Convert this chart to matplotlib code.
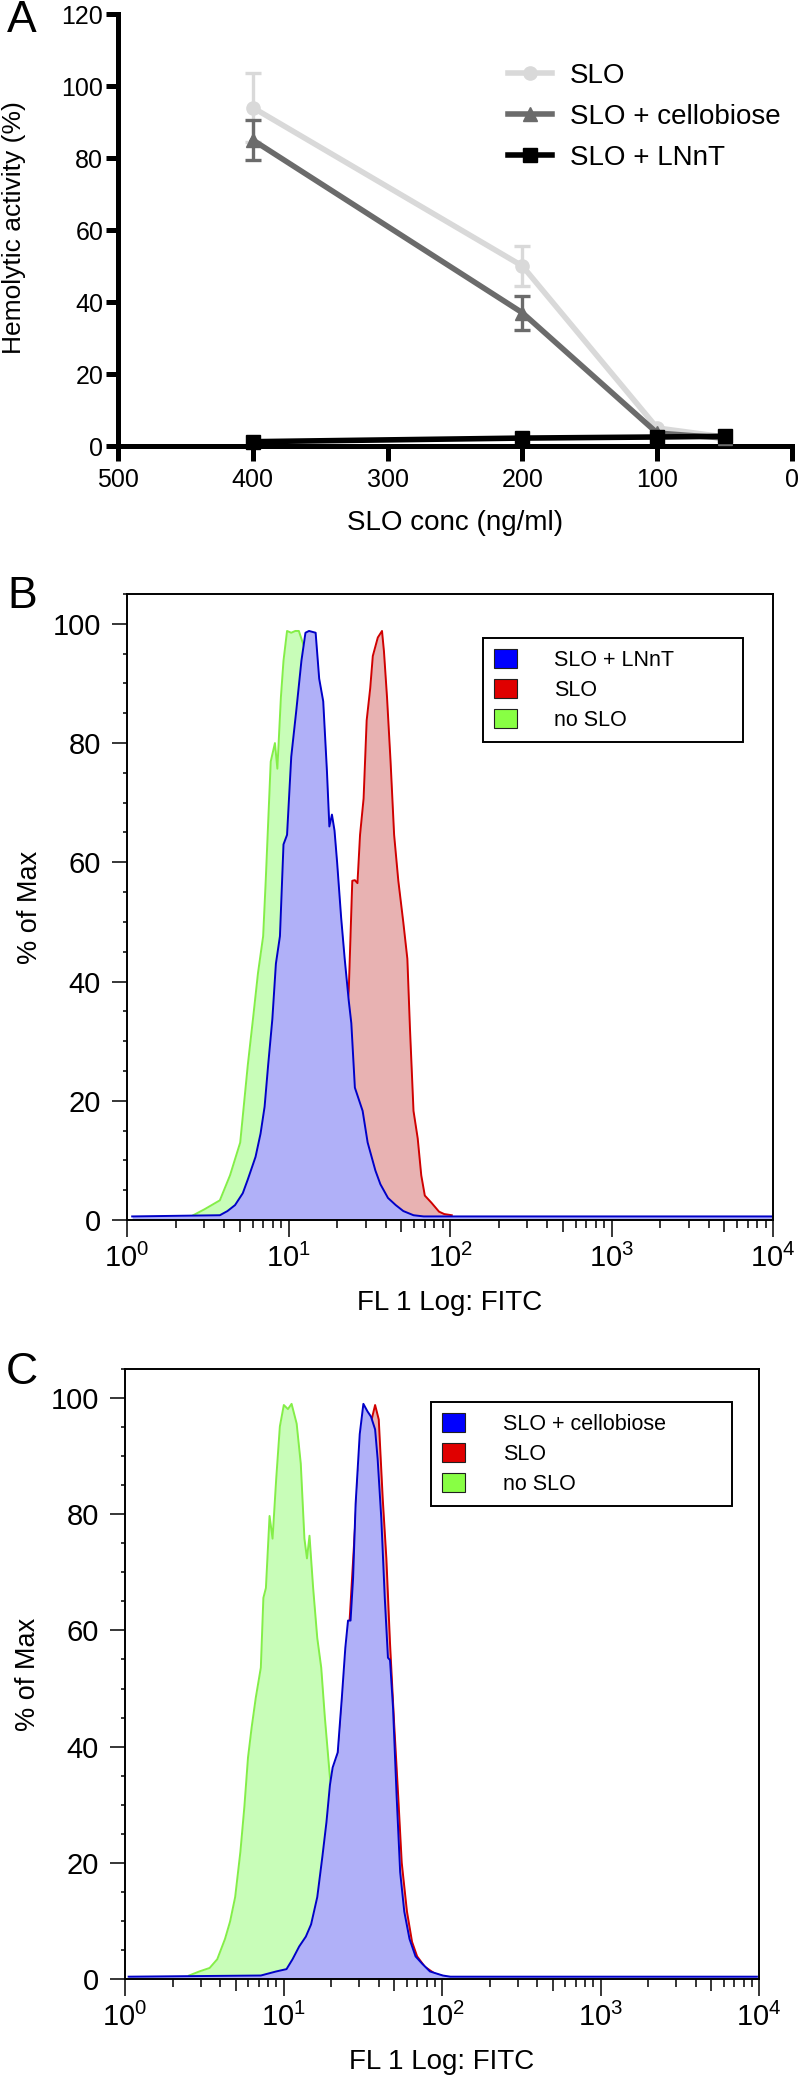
import matplotlib
matplotlib.use("Agg")
import matplotlib.pyplot as plt
import numpy as np
from matplotlib.patches import Patch
from matplotlib.ticker import FixedLocator, LogLocator, NullLocator

plt.rcParams["font.family"] = ["Liberation Sans", "DejaVu Sans"]
plt.rcParams["mathtext.fontset"] = "custom"
plt.rcParams["mathtext.rm"] = "Liberation Sans"
plt.rcParams["mathtext.it"] = "Liberation Sans:italic"

W, H = 798, 2080

# --- Panel A: hemolytic activity ---
conc = [400, 200, 100, 50]
slo_mean = [94, 50, 5, 2.5]
slo_err = [9.5, 5.5, 0, 0]
cello_mean = [85, 37, 3.6, 2.2]
cello_err = [5.5, 4.8, 0, 0]
lnnt_mean = [1.2, 2.2, 2.5, 2.7]
lnnt_err = [0, 0, 0, 0]

# --- Panel B: FL1 histograms (log10 FITC, % of max) ---
b_green_log = [0.41, 0.48, 0.575, 0.638, 0.701, 0.748, 0.78, 0.811, 0.843, 0.859,
               0.89, 0.916, 0.931, 0.953, 0.969, 0.991, 1.017, 1.042, 1.064, 1.111,
               1.174, 1.238, 1.301, 1.364, 1.427, 1.522, 1.616, 1.743]
b_green_pct = [0.8, 1.8, 3.3, 7.5, 13, 26, 33.7, 41.4, 47.6, 56.9,
               76.9, 80, 75.7, 87.7, 93.8, 98.8, 98.5, 98.8, 98.8, 95,
               80, 55, 35, 20, 10, 3, 1, 0.6]
b_red_log = [0.575, 0.969, 1.111, 1.238, 1.332, 1.373, 1.395, 1.411, 1.427, 1.443,
             1.465, 1.484, 1.506, 1.522, 1.553, 1.579, 1.591, 1.61, 1.632, 1.654,
             1.68, 1.711, 1.736, 1.752, 1.774, 1.8, 1.822, 1.844, 1.885, 1.932,
             1.964, 2.011]
b_red_pct = [0.6, 0.6, 4, 14, 28, 38.4, 56.9, 57, 56.5, 64.6,
             70.7, 83.8, 89.2, 94.6, 97.7, 98.8, 95.4, 87.7, 76.9, 64.6,
             56.9, 49.9, 43.8, 32.2, 18.3, 13.7, 7.5, 4.1, 2.9, 1.4,
             1, 0.8]
b_blue_log = [0.032, 0.575, 0.622, 0.669, 0.717, 0.748, 0.796, 0.827, 0.852, 0.874,
              0.9, 0.922, 0.947, 0.969, 0.991, 1.017, 1.048, 1.08, 1.105, 1.127,
              1.168, 1.19, 1.215, 1.238, 1.253, 1.269, 1.285, 1.301, 1.326, 1.348,
              1.373, 1.389, 1.411, 1.459, 1.49, 1.538, 1.569, 1.616, 1.664, 1.711,
              1.774, 1.837, 3.991]
b_blue_pct = [0.6, 0.8, 1.5, 2.5, 4.5, 6.8, 10.6, 14.5, 19, 26,
              33.7, 43, 47.6, 63, 64.6, 77.7, 85.4, 93.8, 98.5, 98.8,
              98.5, 90.8, 87, 75.3, 66, 68, 65.3, 60, 50.7, 43.8,
              36.8, 33, 22.2, 18.3, 13, 8.3, 6, 3.7, 2.5, 1.5,
              0.8, 0.6, 0.6]

# --- Panel C ---
c_green_log = [0.404, 0.469, 0.534, 0.582, 0.631, 0.663, 0.695, 0.728, 0.753, 0.776,
               0.799, 0.825, 0.857, 0.873, 0.889, 0.912, 0.931, 0.954, 0.977, 1.002,
               1.028, 1.051, 1.083, 1.109, 1.132, 1.148, 1.164, 1.187, 1.213, 1.238,
               1.261, 1.293, 1.374, 1.471, 1.568, 1.73, 1.795, 1.989]
c_green_pct = [0.6, 1.3, 1.9, 3.4, 6.9, 9.9, 14.1, 21.9, 29.6, 38.1,
               43.3, 48.4, 53.6, 65.6, 67.3, 79.7, 75.8, 86.1, 95.1, 98.8,
               98.1, 99, 95.6, 88.7, 75.8, 72.4, 76.3, 67.3, 58.7, 53.6,
               45, 34.7, 22.7, 9.9, 3.9, 1.3, 0.7, 0.4]
c_red_log = [0.857, 0.97, 1.148, 1.277, 1.407, 1.471, 1.536, 1.578, 1.601, 1.626,
             1.649, 1.672, 1.698, 1.724, 1.746, 1.779, 1.811, 1.843, 1.892, 1.956,
             2.021]
c_red_pct = [0.4, 0.4, 2, 18, 57, 87, 94, 98.8, 96.3, 82.7,
             72.4, 57.8, 44, 31.3, 20, 11.6, 6.4, 3.9, 2.1, 0.9,
             0.4]
c_blue_log = [0.023, 0.857, 0.954, 1.019, 1.057, 1.099, 1.141, 1.174, 1.213, 1.245,
              1.271, 1.293, 1.31, 1.342, 1.368, 1.39, 1.407, 1.423, 1.439, 1.455,
              1.481, 1.504, 1.53, 1.552, 1.578, 1.594, 1.617, 1.639, 1.659, 1.672,
              1.691, 1.714, 1.736, 1.762, 1.795, 1.833, 1.876, 1.924, 2.005, 2.053,
              3.987]
c_blue_pct = [0.4, 0.6, 1.3, 1.7, 3.4, 5.6, 7.3, 9.4, 14.1, 21,
              27, 33.4, 36.4, 39, 48.4, 57, 61.7, 61.7, 69, 81.8,
              93.8, 99, 97.7, 96.8, 94.6, 89.5, 79.3, 65.6, 55.3, 54.9,
              46.7, 31.3, 18.4, 11.6, 6.9, 3.9, 2.6, 1.3, 0.6, 0.4,
              0.4]

BLUE_LINE, BLUE_FILL = "#0000c8", "#b0b0f8"
RED_LINE, RED_FILL = "#d00000", "#e8b2b2"
GREEN_LINE, GREEN_FILL = "#84ee48", "#c8fdb8"


def px_axes(fig, left, top, right, bottom):
    return fig.add_axes([left / W, 1 - bottom / H, (right - left) / W, (bottom - top) / H])


def draw_hist(ax, logs, pct, line, fill, z):
    x = 10 ** np.asarray(logs)
    ax.fill_between(x, pct, 0, color=fill, lw=0, zorder=z)
    ax.plot(x, pct, color=line, lw=1.4, zorder=z + 0.05)


def style_hist(ax, ylabel_x):
    ax.set_xscale("log")
    ax.set_xlim(1, 1e4)
    ax.set_ylim(0, 105)
    for s in ax.spines.values():
        s.set_linewidth(1.4)
    ax.set_yticks([0, 20, 40, 60, 80, 100])
    ax.yaxis.set_minor_locator(FixedLocator(list(range(0, 106, 5))))
    ax.tick_params(axis="y", which="major", direction="out", length=10.8, width=1.1,
                   pad=8, labelsize=21)
    ax.tick_params(axis="y", which="minor", direction="out", length=3.2, width=1.1)
    ax.set_xticks([1, 10, 100, 1000, 10000])
    ax.set_xticklabels([r"$10^{%d}$" % k for k in range(5)])
    ax.xaxis.set_minor_locator(LogLocator(base=10, subs=[2, 3, 4, 6, 7, 8, 9], numticks=20))
    ax.tick_params(axis="x", which="major", direction="out", length=12.2, width=1.1,
                   pad=5, labelsize=21)
    ax.tick_params(axis="x", which="minor", direction="out", length=5.6, width=1.1)
    sec = ax.secondary_xaxis("bottom")
    sec.set_xticks([5, 50, 500, 5000])
    sec.xaxis.set_minor_locator(NullLocator())
    sec.tick_params(axis="x", direction="out", length=8.6, width=1.1, labelbottom=False)
    sec.spines["bottom"].set_visible(False)
    ax.set_ylabel("% of Max", fontsize=19.5)
    ax.yaxis.set_label_coords(ylabel_x, 0.5)
    ax.set_xlabel("FL 1 Log: FITC", fontsize=20)


def hist_legend(ax, labels, x0, top, width):
    handles = [Patch(facecolor="#0000ff", edgecolor="#202020", lw=0.8),
               Patch(facecolor="#e00000", edgecolor="#202020", lw=0.8),
               Patch(facecolor="#88ff44", edgecolor="#202020", lw=0.8)]
    leg = ax.legend(handles, labels, loc="upper left",
                    bbox_to_anchor=(x0, top - 0.3, width, 0.3), mode="expand",
                    borderaxespad=0, fontsize=15.5, frameon=True, fancybox=False,
                    edgecolor="black", framealpha=1, handlelength=1.07,
                    handleheight=1.0, handletextpad=1.75, borderpad=0.5,
                    labelspacing=0.38)
    leg.get_frame().set_linewidth(1.4)


def main():
    fig = plt.figure(figsize=(W / 100, H / 100), dpi=100)

    # Panel A
    ax = px_axes(fig, 118, 14, 792, 446)
    series = [
        (slo_mean, slo_err, "#d9d9d9", "o", "SLO"),
        (cello_mean, cello_err, "#6b6b6b", "^", "SLO + cellobiose"),
        (lnnt_mean, lnnt_err, "#000000", "s", "SLO + LNnT"),
    ]
    handles = []
    for z, (mean, err, color, marker, label) in enumerate(series):
        ln, = ax.plot(conc, mean, color=color, lw=4, marker=marker, ms=9.5,
                      label=label, zorder=3 + z, clip_on=False)
        handles.append(ln)
        idx = [i for i, e in enumerate(err) if e > 0]
        if idx:
            ax.errorbar([conc[i] for i in idx], [mean[i] for i in idx],
                        yerr=[err[i] for i in idx], fmt="none", ecolor=color,
                        elinewidth=2.4, capsize=6, capthick=2.4, zorder=3 + z)
    ax.set_xlim(500, 0)
    ax.set_ylim(0, 120)
    ax.set_xticks([500, 400, 300, 200, 100, 0])
    ax.set_yticks([0, 20, 40, 60, 80, 100, 120])
    for side in ("top", "right"):
        ax.spines[side].set_visible(False)
    for side in ("left", "bottom"):
        ax.spines[side].set_linewidth(3.6)
    ax.tick_params(axis="y", direction="out", length=8.6, width=3.6, pad=2, labelsize=18)
    ax.tick_params(axis="x", direction="out", length=10.8, width=3.6, pad=5, labelsize=18)
    ax.set_xlabel("SLO conc (ng/ml)", fontsize=20)
    ax.xaxis.set_label_coords(0.5, -0.148)
    ax.set_ylabel("Hemolytic activity (%)", fontsize=19)
    ax.yaxis.set_label_coords(-0.137, 0.505)
    ax.legend(handles=handles, loc="upper left", bbox_to_anchor=(0.579, 0.887),
              frameon=False, fontsize=20, handlelength=1.58, handletextpad=0.65,
              labelspacing=0.54, borderpad=0, borderaxespad=0)

    # Panel B
    ax = px_axes(fig, 127, 594, 773, 1220)
    draw_hist(ax, b_green_log, b_green_pct, GREEN_LINE, GREEN_FILL, 1.0)
    draw_hist(ax, b_red_log, b_red_pct, RED_LINE, RED_FILL, 1.1)
    draw_hist(ax, b_blue_log, b_blue_pct, BLUE_LINE, BLUE_FILL, 1.2)
    style_hist(ax, -0.130)
    ax.xaxis.set_label_coords(0.5, -0.112)
    hist_legend(ax, ["SLO + LNnT", "SLO", "no SLO"], 0.551, 0.930, 0.402)

    # Panel C
    ax = px_axes(fig, 125, 1369, 759, 1979)
    draw_hist(ax, c_green_log, c_green_pct, GREEN_LINE, GREEN_FILL, 1.0)
    draw_hist(ax, c_red_log, c_red_pct, RED_LINE, RED_FILL, 1.1)
    draw_hist(ax, c_blue_log, c_blue_pct, BLUE_LINE, BLUE_FILL, 1.2)
    style_hist(ax, -0.132)
    ax.xaxis.set_label_coords(0.5, -0.115)
    hist_legend(ax, ["SLO + cellobiose", "SLO", "no SLO"], 0.483, 0.946, 0.475)

    for letter, y in (("A", 21), ("B", 597), ("C", 1373)):
        fig.text(22 / W, 1 - y / H, letter, fontsize=32, ha="center", va="center")

    fig.savefig("out.png", dpi=100)
    plt.close(fig)


if __name__ == "__main__":
    main()
